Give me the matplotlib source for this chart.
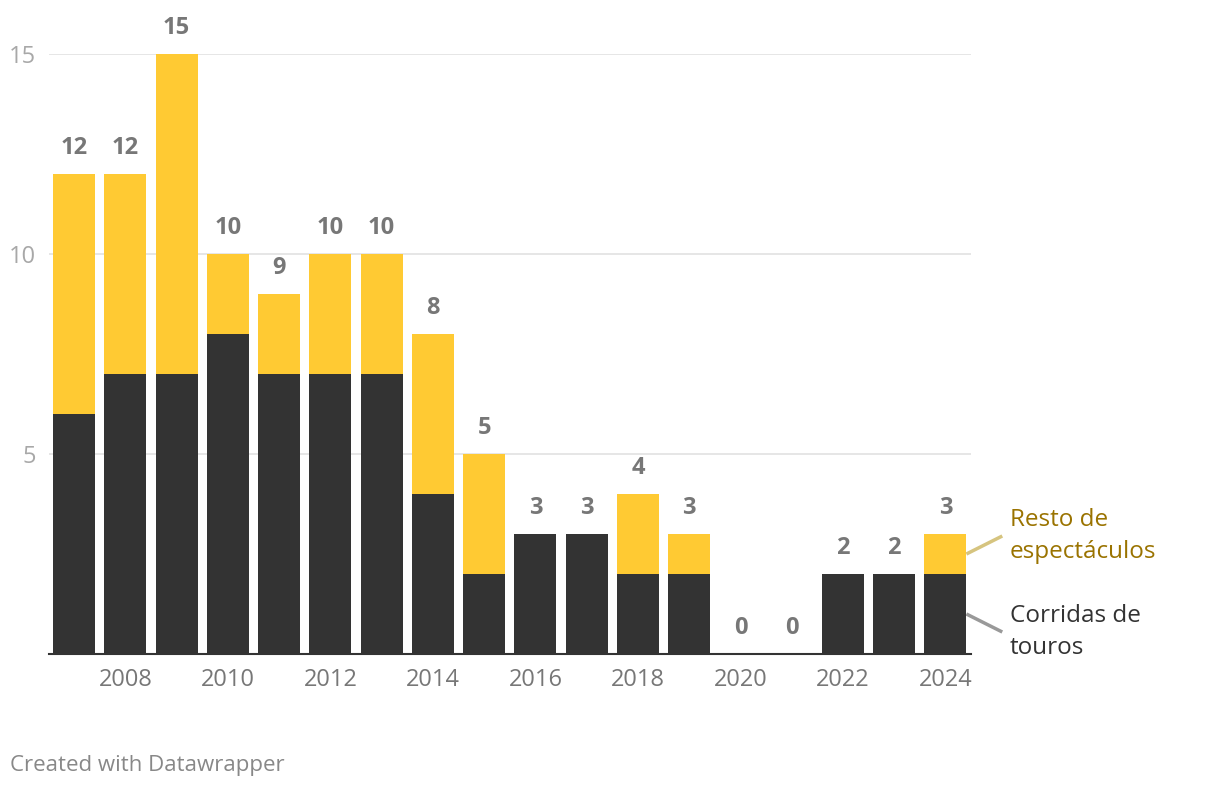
import matplotlib
matplotlib.use('Agg')
import matplotlib.pyplot as plt

# === DATA ===
years    = [2007, 2008, 2009, 2010, 2011, 2012, 2013, 2014, 2015,
            2016, 2017, 2018, 2019, 2020, 2021, 2022, 2023, 2024]
corridas = [6, 7, 7, 8, 7, 7, 7, 4, 2, 3, 3, 2, 2, 0, 0, 2, 2, 2]
resto    = [6, 5, 8, 2, 2, 3, 3, 4, 3, 0, 0, 2, 1, 0, 0, 0, 0, 1]
y_ticks  = [5, 10, 15]
x_ticks  = [2008, 2010, 2012, 2014, 2016, 2018, 2020, 2022, 2024]

# === PALETTE ===
YELLOW = '#ffca33'
DARK   = '#333333'
GRID   = '#e2e2e2'
TICK   = '#a8a8a8'
LABEL  = '#777777'
GOLD   = '#9a7300'

plt.rcParams['font.family'] = ['Open Sans', 'DejaVu Sans']

fig = plt.figure(figsize=(12.2, 7.88), dpi=100)
ax = fig.add_axes([48.5 / 1220, 1 - 654 / 788, (971 - 48.5) / 1220, 600 / 788])

totals = [c + r for c, r in zip(corridas, resto)]
ax.bar(years, corridas, width=0.82, color=DARK, zorder=3)
ax.bar(years, resto, width=0.82, bottom=corridas, color=YELLOW, zorder=3)

for x, t in zip(years, totals):
    ax.annotate(f'{t}', (x, t), xytext=(0, 10), textcoords='offset points',
                ha='center', va='bottom', fontsize=17, fontweight='bold',
                color=LABEL, annotation_clip=False)

ax.set_xlim(2006.5, 2024.5)
ax.set_ylim(0, 15)
ax.set_yticks(y_ticks)
ax.set_yticklabels([str(v) for v in y_ticks], fontsize=17, color=TICK)
ax.set_xticks(x_ticks)
ax.set_xticklabels([str(v) for v in x_ticks], fontsize=17, color=LABEL)
ax.tick_params(axis='y', length=0, pad=9)
ax.tick_params(axis='x', length=0, pad=10)
ax.yaxis.grid(True, color=GRID, linewidth=1.2, zorder=0)
for s in ['top', 'right', 'left']:
    ax.spines[s].set_visible(False)
ax.spines['bottom'].set_color(DARK)
ax.spines['bottom'].set_linewidth(1.5)
ax.spines['bottom'].set_zorder(4)

# === DIRECT LABELS ===
last = len(years) - 1
x0 = years[last] + 0.41
mid_r = corridas[last] + resto[last] / 2
mid_c = corridas[last] / 2
ax.plot([x0, 2025.11], [mid_r, 2.95], color='#d6c47f', lw=2.5,
        clip_on=False, solid_capstyle='butt')
ax.plot([x0, 2025.11], [mid_c, 0.55], color='#999999', lw=2.5,
        clip_on=False, solid_capstyle='butt')
ax.text(2025.26, 2.95, 'Resto de\nespectáculos', fontsize=17.5, color=GOLD,
        ha='left', va='center', linespacing=1.42)
ax.text(2025.26, 0.55, 'Corridas de\ntouros', fontsize=17.5, color=DARK,
        ha='left', va='center', linespacing=1.42)

fig.text(10 / 1220, 1 - 765 / 788, 'Created with Datawrapper', fontsize=16,
         color='#888888', ha='left', va='center')

fig.savefig('out.png', dpi=100, facecolor='white')
